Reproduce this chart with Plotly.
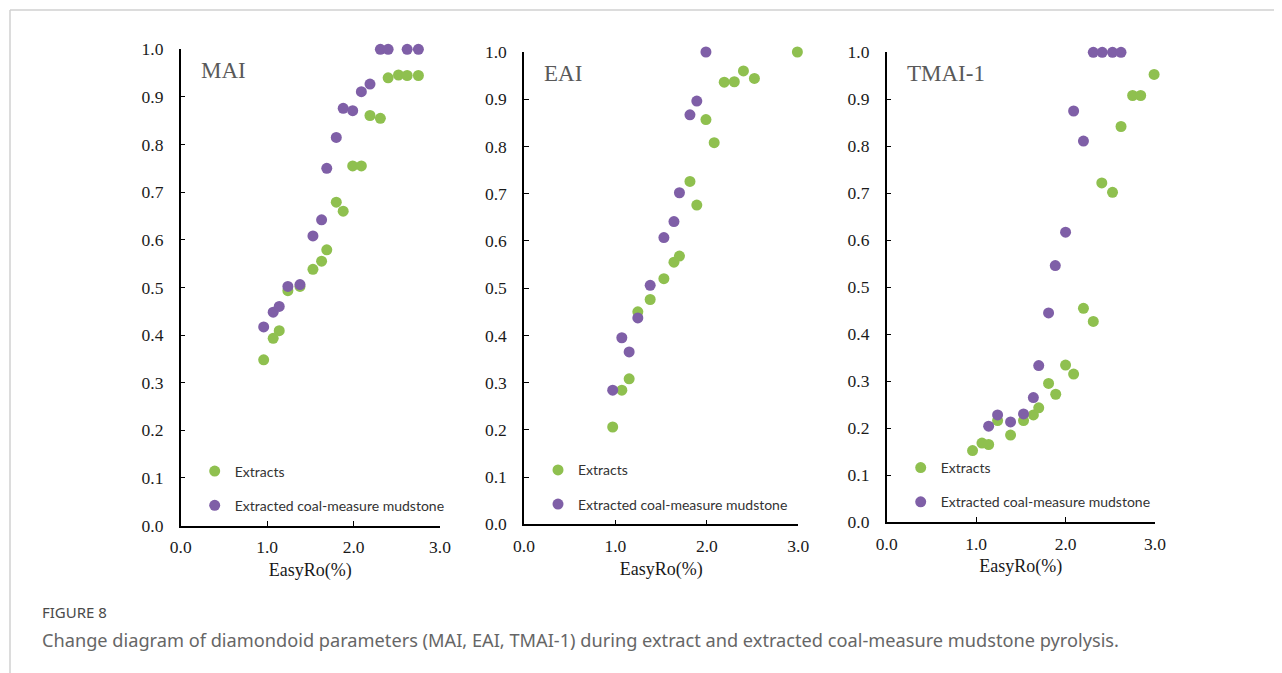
import plotly.graph_objects as go

# ---------------- data ----------------
mai_ext_x = [0.96, 1.07, 1.14, 1.24, 1.38, 1.53, 1.63, 1.69, 1.80, 1.88, 1.99, 2.09, 2.19, 2.31, 2.40, 2.52, 2.62, 2.75]
mai_ext_y = [0.348, 0.393, 0.409, 0.493, 0.502, 0.538, 0.555, 0.579, 0.679, 0.660, 0.755, 0.755, 0.861, 0.855, 0.940, 0.946, 0.945, 0.945]
mai_mud_x = [0.96, 1.07, 1.14, 1.24, 1.38, 1.53, 1.63, 1.69, 1.80, 1.88, 1.99, 2.09, 2.19, 2.31, 2.40, 2.62, 2.75]
mai_mud_y = [0.417, 0.448, 0.460, 0.502, 0.506, 0.608, 0.642, 0.750, 0.815, 0.876, 0.871, 0.911, 0.927, 1.0, 1.0, 1.0, 1.0]

eai_ext_x = [0.97, 1.07, 1.15, 1.245, 1.38, 1.53, 1.64, 1.70, 1.815, 1.89, 1.99, 2.08, 2.19, 2.30, 2.40, 2.52, 2.99]
eai_ext_y = [0.206, 0.284, 0.308, 0.450, 0.476, 0.520, 0.555, 0.568, 0.726, 0.676, 0.857, 0.808, 0.936, 0.937, 0.960, 0.944, 1.0]
eai_mud_x = [0.97, 1.07, 1.15, 1.245, 1.38, 1.53, 1.64, 1.70, 1.815, 1.89, 1.99]
eai_mud_y = [0.284, 0.395, 0.365, 0.437, 0.506, 0.607, 0.641, 0.702, 0.867, 0.896, 1.0]

tmai_ext_x = [0.96, 1.065, 1.14, 1.24, 1.385, 1.53, 1.64, 1.70, 1.81, 1.89, 2.00, 2.09, 2.20, 2.31, 2.405, 2.525, 2.62, 2.75, 2.84, 2.99]
tmai_ext_y = [0.152, 0.168, 0.165, 0.216, 0.185, 0.216, 0.228, 0.243, 0.295, 0.272, 0.334, 0.315, 0.455, 0.427, 0.722, 0.702, 0.842, 0.908, 0.908, 0.953]
tmai_mud_x = [1.14, 1.24, 1.385, 1.53, 1.64, 1.70, 1.81, 1.885, 2.00, 2.09, 2.20, 2.31, 2.41, 2.525, 2.62]
tmai_mud_y = [0.204, 0.228, 0.213, 0.230, 0.265, 0.333, 0.445, 0.546, 0.617, 0.875, 0.811, 1.0, 1.0, 1.0, 1.0]

panel_titles = ["MAI", "EAI", "TMAI-1"]
series_names = ["Extracts", "Extracted coal-measure mudstone"]
x_tick_vals = [0, 1, 2, 3]
x_tick_text = ["0.0", "1.0", "2.0", "3.0"]
y_tick_vals = [i / 10 for i in range(11)]
y_tick_text = ["%.1f" % v for v in y_tick_vals]
x_title = "EasyRo(%)"
caption_head = "FIGURE 8"
caption_text = "Change diagram of diamondoid parameters (MAI, EAI, TMAI-1) during extract and extracted coal-measure mudstone pyrolysis."

# ---------------- style ----------------
PAGE_OFF = 8              # default body margin of the page
W, H = 1282 - PAGE_OFF, 673 - PAGE_OFF
GREEN = "#8fc04f"
PURPLE = "#7f5fa7"
SERIF = "Liberation Serif, Times New Roman, serif"
SANS = "Noto Sans, Open Sans, sans-serif"
LEG_FONT = "Lato, Noto Sans, sans-serif"

def px_x(p):
    return (p - PAGE_OFF) / W

def px_y(p):
    return 1 - (p - PAGE_OFF) / H

# pixel boxes (screen coords) of each plot area: (left, right, top, bottom)
boxes = [(180.7, 440.0, 49.3, 525.5), (524.0, 798.3, 52.0, 524.3), (886.7, 1155.0, 52.3, 522.0)]

data_sets = [
    (mai_ext_x, mai_ext_y, mai_mud_x, mai_mud_y),
    (eai_ext_x, eai_ext_y, eai_mud_x, eai_mud_y),
    (tmai_ext_x, tmai_ext_y, tmai_mud_x, tmai_mud_y),
]

fig = go.Figure()
layout = dict(
    width=W, height=H,
    margin=dict(l=0, r=0, t=0, b=0, autoexpand=False),
    paper_bgcolor="white", plot_bgcolor="white",
    showlegend=True,
    annotations=[], shapes=[],
)

for i, (ex, ey, mx, my) in enumerate(data_sets):
    k = "" if i == 0 else str(i + 1)
    xa, ya = "x" + k, "y" + k
    lg = "legend" + k
    fig.add_trace(go.Scatter(x=ex, y=ey, mode="markers", name=series_names[0],
                             marker=dict(color=GREEN, size=11, line=dict(width=0)),
                             xaxis=xa, yaxis=ya, legend=lg, legendgroup="e" + k,
                             cliponaxis=False))
    fig.add_trace(go.Scatter(x=mx, y=my, mode="markers", name=series_names[1],
                             marker=dict(color=PURPLE, size=11, line=dict(width=0)),
                             xaxis=xa, yaxis=ya, legend=lg, legendgroup="m" + k,
                             cliponaxis=False))
    l, r, t, b = boxes[i]
    layout["xaxis" + k] = dict(
        domain=[px_x(l), px_x(r)], range=[0, 3], anchor=ya,
        showgrid=False, zeroline=False, showline=True, linecolor="black", linewidth=1.5,
        ticks="inside", ticklen=5, tickwidth=1.3, tickcolor="black",
        tickvals=x_tick_vals, ticktext=x_tick_text,
        tickfont=dict(family=SERIF, size=17.5, color="#1a1a1a"),
        ticklabelstandoff=5,
        title=dict(text=x_title, font=dict(family=SERIF, size=18, color="#1a1a1a"), standoff=7),
    )
    layout["yaxis" + k] = dict(
        domain=[px_y(b), px_y(t)], range=[0, 1], anchor=xa,
        showgrid=False, zeroline=False, showline=True, linecolor="black", linewidth=1.5,
        ticks="inside", ticklen=5, tickwidth=1.3, tickcolor="black",
        tickvals=y_tick_vals, ticktext=y_tick_text,
        tickfont=dict(family=SERIF, size=17.5, color="#1a1a1a"),
        ticklabelstandoff=12,
    )
    layout[lg] = dict(
        x=px_x(l + 14), y=px_y(b - 70), xanchor="left", yanchor="top",
        bgcolor="rgba(0,0,0,0)", borderwidth=0,
        font=dict(family=LEG_FONT, size=14, color="#333"),
        tracegroupgap=13, itemsizing="trace",
    )
    layout["annotations"].append(dict(
        text=panel_titles[i], xref="paper", yref="paper",
        x=px_x(l + 18), y=px_y(t + 21), xanchor="left", yanchor="middle",
        showarrow=False, font=dict(family=SERIF, size=23, color="#595959"),
    ))

layout["annotations"].append(dict(
    text=caption_head, xref="paper", yref="paper", x=px_x(40), y=px_y(612),
    xanchor="left", yanchor="middle", showarrow=False,
    font=dict(family=SANS, size=15, color="#4a4a4a"),
))
layout["annotations"].append(dict(
    text=caption_text, xref="paper", yref="paper", x=px_x(40), y=px_y(640),
    xanchor="left", yanchor="middle", showarrow=False,
    font=dict(family=SANS, size=18.2, color="#666"),
))
# card border (top and left)
layout["shapes"].append(dict(type="line", xref="paper", yref="paper",
                             x0=px_x(10), x1=1, y0=px_y(10), y1=px_y(10),
                             line=dict(color="#d0d0d0", width=1.5)))
layout["shapes"].append(dict(type="line", xref="paper", yref="paper",
                             x0=px_x(10), x1=px_x(10), y0=px_y(10), y1=0,
                             line=dict(color="#d0d0d0", width=1.5)))

fig.update_layout(**layout)
fig.write_html("out.html")
